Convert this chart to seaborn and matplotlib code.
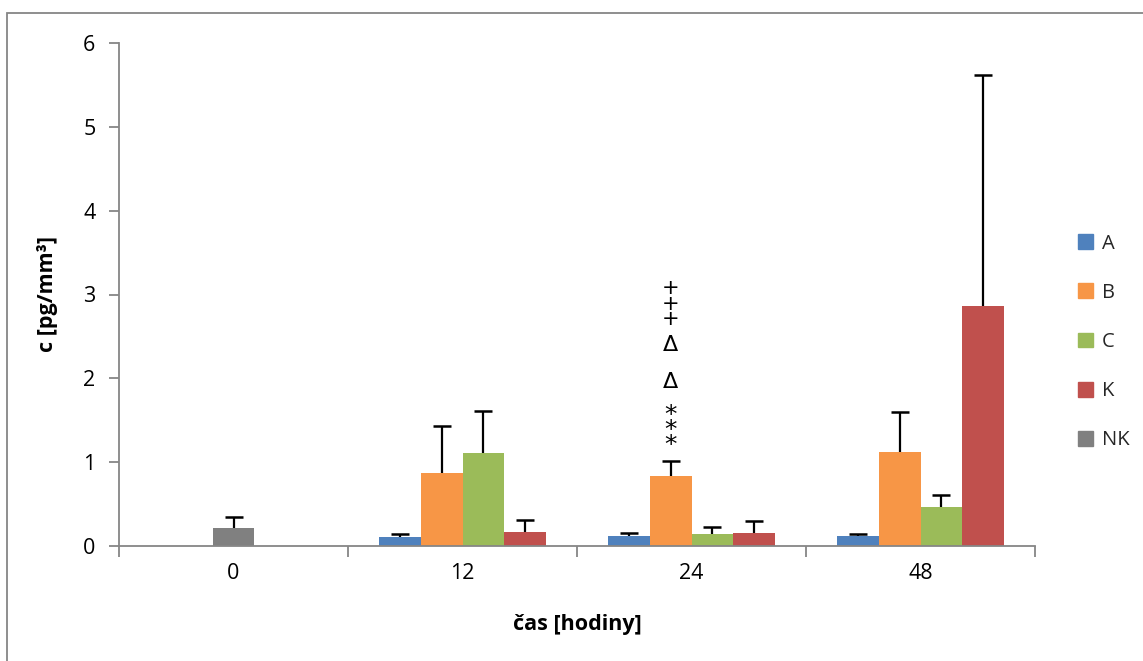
import numpy as np
import pandas as pd
import seaborn as sns
import matplotlib.pyplot as plt
from matplotlib.patches import Rectangle

# Measured concentrations (mean and SD) per time point
times = ["0", "12", "24", "48"]
groups = ["A", "B", "C", "K"]
mean_A = [0.11, 0.12, 0.12]
mean_B = [0.87, 0.84, 1.12]
mean_C = [1.11, 0.14, 0.465]
mean_K = [0.17, 0.16, 2.86]
sd_A = [0.03, 0.04, 0.02]
sd_B = [0.56, 0.17, 0.48]
sd_C = [0.50, 0.09, 0.145]
sd_K = [0.14, 0.14, 2.76]
nk_mean = [0.22]
nk_sd = [0.13]

# Significance marks above group B at 24 h
mark_text = ["*\n*\n*", "Δ", "Δ", "+\n+\n+"]
mark_y = [1.38, 1.96, 2.40, 2.89]

colors = {"A": "#4f81bd", "B": "#f79646", "C": "#9bbb59", "K": "#c0504d", "NK": "#808080"}
GROUP_W = 0.725

sns.set_theme(style="white")
plt.rcParams["font.family"] = ["Open Sans", "DejaVu Sans"]

rows = []
for g, m, s in zip(groups, [mean_A, mean_B, mean_C, mean_K], [sd_A, sd_B, sd_C, sd_K]):
    for t, mv, sv in zip(times[1:], m, s):
        rows.append({"time": t, "group": g, "value": mv, "sd": sv})
df = pd.DataFrame(rows)
df_nk = pd.DataFrame({"time": times[:1], "group": ["NK"], "value": nk_mean, "sd": nk_sd})

fig = plt.figure(figsize=(11.43, 6.61), dpi=100)
ax = fig.add_axes([119 / 1143, 1 - 546 / 661, (1035 - 119) / 1143, (546 - 43) / 661])

sns.barplot(data=df, x="time", y="value", hue="group", order=times, hue_order=groups,
            palette=colors, width=GROUP_W, errorbar=None, saturation=1, ax=ax,
            legend=False, linewidth=0)
sns.barplot(data=df_nk, x="time", y="value", order=times, color=colors["NK"],
            width=GROUP_W / 4, errorbar=None, saturation=1, ax=ax, linewidth=0)

# One-sided (upper) error bars placed on the drawn bars
def bar_center(g, t):
    if g == "NK":
        return times.index(t)
    return times.index(t) + (groups.index(g) - 1.5) * GROUP_W / 4

entries = [(r.group, r.time, r.value, r.sd) for r in df.itertuples()]
entries += [(r.group, r.time, r.value, r.sd) for r in df_nk.itertuples()]

for p in ax.patches:
    h = p.get_height()
    if h <= 0:
        continue
    xc = p.get_x() + p.get_width() / 2
    for g, t, v, s in entries:
        if abs(v - h) < 1e-9 and abs(xc - bar_center(g, t)) < 0.05:
            ax.plot([xc, xc], [h, h + s], color="black", lw=1.6, solid_capstyle="butt", zorder=3)
            ax.plot([xc], [h + s], marker="_", markersize=13, mew=1.8, color="black", zorder=3)

# Significance marks
xb = bar_center("B", "24")
styles = {"*": (18, 0.52), "+": (15, 0.72), "Δ": (16, 1.0)}
for lab, y in zip(mark_text, mark_y):
    fs, ls = styles[lab[0]]
    ax.text(xb, y, lab, ha="center", va="center", fontsize=fs, linespacing=ls,
            color="black", family=["DejaVu Sans"])

ax.set_ylim(0, 6)
ax.set_xlim(-0.5, len(times) - 0.5)
ax.set_yticks(range(0, 7))
ax.set_xlabel("čas [hodiny]", fontsize=15.5, fontweight="bold", labelpad=22, color="black")
ax.set_ylabel("c [pg/mm³]", fontsize=15.5, fontweight="bold", labelpad=18, color="black")

for side in ["top", "right"]:
    ax.spines[side].set_visible(False)
for side in ["left", "bottom"]:
    ax.spines[side].set_color("#868686")
    ax.spines[side].set_linewidth(1.3)

ax.tick_params(axis="y", which="major", length=7, width=1.3, color="#868686",
               labelsize=15.5, labelcolor="black", pad=10, left=True, direction="out")
ax.tick_params(axis="x", which="major", length=0, labelsize=15.5, labelcolor="black", pad=12)
ax.set_xticks([i - 0.5 for i in range(len(times) + 1)], minor=True)
ax.tick_params(axis="x", which="minor", length=8, width=1.3, color="#868686",
               bottom=True, direction="out")

# Legend on the right
handles = [Rectangle((0, 0), 1, 1, color=colors[g]) for g in groups + ["NK"]]
fig.legend(handles, groups + ["NK"], loc="center left", bbox_to_anchor=(1068 / 1143, 1 - 342 / 661),
           frameon=False, fontsize=14.5, handlelength=0.75, handleheight=0.75,
           labelspacing=1.45, handletextpad=0.45, borderpad=0)

# Chart area frame
fig.patches.append(Rectangle((7 / 1143, -0.1), 1.2, 1 - 13 / 661 + 0.1, transform=fig.transFigure,
                             fill=False, edgecolor="#868686", linewidth=1.3))

fig.savefig("out.png", dpi=100)
